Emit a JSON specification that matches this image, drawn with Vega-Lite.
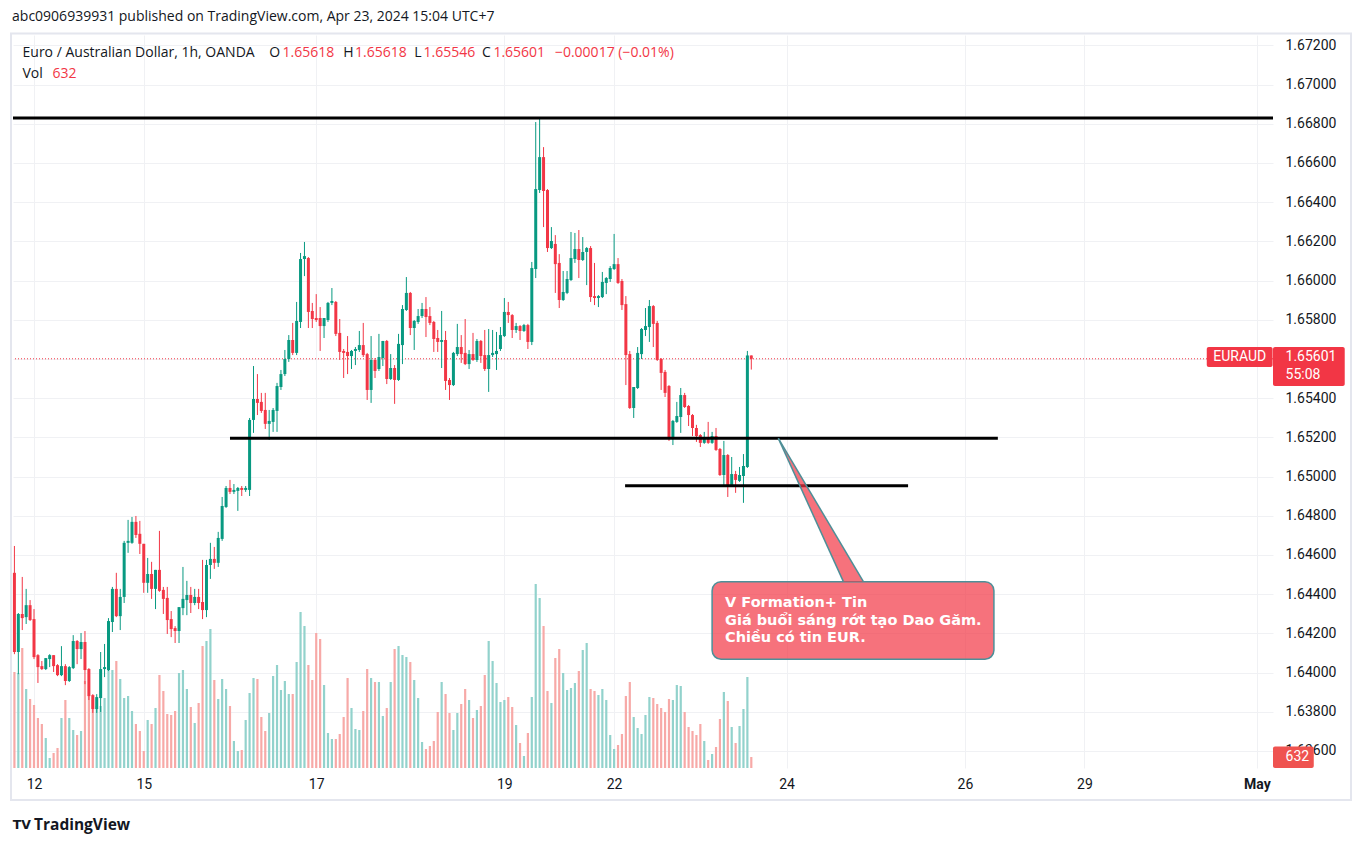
{
  "$schema": "https://vega.github.io/schema/vega-lite/v6.json",
  "width": 1260,
  "height": 733,
  "autosize": "none",
  "padding": {"left": 13, "top": 35, "right": 90, "bottom": 78},
  "background": "white",
  "config": {"view": {"stroke": null}, "font": "Roboto"},
  "datasets": {
    "candles": [
      {"i":0,"o":1.64509,"h":1.64646,"l":1.64094,"c":1.64105,"v":5520},
      {"i":1,"o":1.64105,"h":1.64304,"l":1.63992,"c":1.64299,"v":5463},
      {"i":2,"o":1.64299,"h":1.64488,"l":1.64217,"c":1.64278,"v":6900},
      {"i":3,"o":1.64283,"h":1.64427,"l":1.64248,"c":1.64344,"v":4543},
      {"i":4,"o":1.64344,"h":1.64370,"l":1.64263,"c":1.64268,"v":3968},
      {"i":5,"o":1.64273,"h":1.64324,"l":1.64069,"c":1.64079,"v":3623},
      {"i":6,"o":1.64089,"h":1.64094,"l":1.63947,"c":1.64028,"v":2875},
      {"i":7,"o":1.64033,"h":1.64059,"l":1.64013,"c":1.64018,"v":2530},
      {"i":8,"o":1.64018,"h":1.64074,"l":1.64013,"c":1.64074,"v":1725},
      {"i":9,"o":1.64069,"h":1.64094,"l":1.64028,"c":1.64089,"v":575},
      {"i":10,"o":1.64089,"h":1.64089,"l":1.64003,"c":1.64033,"v":863},
      {"i":11,"o":1.64038,"h":1.64043,"l":1.63982,"c":1.63987,"v":1150},
      {"i":12,"o":1.63987,"h":1.64135,"l":1.63982,"c":1.64033,"v":2875},
      {"i":13,"o":1.64033,"h":1.64043,"l":1.63936,"c":1.63957,"v":3910},
      {"i":14,"o":1.63957,"h":1.64033,"l":1.63952,"c":1.64028,"v":2875},
      {"i":15,"o":1.64023,"h":1.64191,"l":1.64018,"c":1.64161,"v":2185},
      {"i":16,"o":1.64161,"h":1.64166,"l":1.64043,"c":1.64120,"v":1898},
      {"i":17,"o":1.64120,"h":1.64202,"l":1.64069,"c":1.64156,"v":2128},
      {"i":18,"o":1.64156,"h":1.64212,"l":1.63941,"c":1.64013,"v":5003},
      {"i":19,"o":1.64018,"h":1.64023,"l":1.63860,"c":1.63880,"v":4140},
      {"i":20,"o":1.63885,"h":1.63890,"l":1.63794,"c":1.63814,"v":3910},
      {"i":21,"o":1.63814,"h":1.63890,"l":1.63794,"c":1.63875,"v":3565},
      {"i":22,"o":1.63870,"h":1.64105,"l":1.63799,"c":1.64018,"v":3565},
      {"i":23,"o":1.64018,"h":1.64146,"l":1.63977,"c":1.64028,"v":4025},
      {"i":24,"o":1.64013,"h":1.64278,"l":1.64008,"c":1.64263,"v":6383},
      {"i":25,"o":1.64258,"h":1.64437,"l":1.64207,"c":1.64427,"v":5635},
      {"i":26,"o":1.64427,"h":1.64509,"l":1.64283,"c":1.64288,"v":6153},
      {"i":27,"o":1.64288,"h":1.64427,"l":1.64217,"c":1.64386,"v":5118},
      {"i":28,"o":1.64386,"h":1.64672,"l":1.64355,"c":1.64662,"v":4025},
      {"i":29,"o":1.64662,"h":1.64779,"l":1.64611,"c":1.64672,"v":4140},
      {"i":30,"o":1.64662,"h":1.64794,"l":1.64657,"c":1.64769,"v":3278},
      {"i":31,"o":1.64769,"h":1.64799,"l":1.64687,"c":1.64702,"v":2530},
      {"i":32,"o":1.64708,"h":1.64774,"l":1.64605,"c":1.64657,"v":2128},
      {"i":33,"o":1.64657,"h":1.64657,"l":1.64407,"c":1.64458,"v":978},
      {"i":34,"o":1.64458,"h":1.64585,"l":1.64407,"c":1.64503,"v":2760},
      {"i":35,"o":1.64503,"h":1.64565,"l":1.64376,"c":1.64427,"v":2530},
      {"i":36,"o":1.64427,"h":1.64524,"l":1.64324,"c":1.64524,"v":3450},
      {"i":37,"o":1.64524,"h":1.64723,"l":1.64412,"c":1.64417,"v":5348},
      {"i":38,"o":1.64422,"h":1.64437,"l":1.64299,"c":1.64376,"v":4428},
      {"i":39,"o":1.64381,"h":1.64437,"l":1.64197,"c":1.64268,"v":3105},
      {"i":40,"o":1.64273,"h":1.64314,"l":1.64181,"c":1.64222,"v":3048},
      {"i":41,"o":1.64227,"h":1.64237,"l":1.64151,"c":1.64212,"v":3278},
      {"i":42,"o":1.64212,"h":1.64334,"l":1.64151,"c":1.64334,"v":5463},
      {"i":43,"o":1.64329,"h":1.64539,"l":1.64293,"c":1.64376,"v":5635},
      {"i":44,"o":1.64370,"h":1.64468,"l":1.64293,"c":1.64396,"v":4543},
      {"i":45,"o":1.64396,"h":1.64437,"l":1.64304,"c":1.64355,"v":3508},
      {"i":46,"o":1.64355,"h":1.64427,"l":1.64344,"c":1.64386,"v":2588},
      {"i":47,"o":1.64386,"h":1.64427,"l":1.64324,"c":1.64355,"v":3738},
      {"i":48,"o":1.64360,"h":1.64575,"l":1.64273,"c":1.64319,"v":7015},
      {"i":49,"o":1.64319,"h":1.64575,"l":1.64283,"c":1.64549,"v":7303},
      {"i":50,"o":1.64549,"h":1.64662,"l":1.64478,"c":1.64580,"v":7993},
      {"i":51,"o":1.64580,"h":1.64641,"l":1.64529,"c":1.64560,"v":5060},
      {"i":52,"o":1.64560,"h":1.64718,"l":1.64539,"c":1.64687,"v":3968},
      {"i":53,"o":1.64682,"h":1.64896,"l":1.64672,"c":1.64850,"v":5118},
      {"i":54,"o":1.64845,"h":1.64952,"l":1.64840,"c":1.64942,"v":4543},
      {"i":55,"o":1.64942,"h":1.64983,"l":1.64911,"c":1.64922,"v":3565},
      {"i":56,"o":1.64922,"h":1.64962,"l":1.64911,"c":1.64932,"v":1553},
      {"i":57,"o":1.64927,"h":1.64947,"l":1.64825,"c":1.64942,"v":978},
      {"i":58,"o":1.64942,"h":1.64952,"l":1.64901,"c":1.64932,"v":1035},
      {"i":59,"o":1.64932,"h":1.64952,"l":1.64922,"c":1.64942,"v":2760},
      {"i":60,"o":1.64932,"h":1.65299,"l":1.64901,"c":1.65289,"v":4313},
      {"i":61,"o":1.65289,"h":1.65564,"l":1.65223,"c":1.65396,"v":5175},
      {"i":62,"o":1.65396,"h":1.65523,"l":1.65314,"c":1.65376,"v":5118},
      {"i":63,"o":1.65381,"h":1.65427,"l":1.65325,"c":1.65335,"v":2933},
      {"i":64,"o":1.65340,"h":1.65427,"l":1.65243,"c":1.65269,"v":2128},
      {"i":65,"o":1.65269,"h":1.65340,"l":1.65187,"c":1.65284,"v":3163},
      {"i":66,"o":1.65279,"h":1.65350,"l":1.65228,"c":1.65340,"v":5290},
      {"i":67,"o":1.65335,"h":1.65478,"l":1.65228,"c":1.65462,"v":5923},
      {"i":68,"o":1.65457,"h":1.65544,"l":1.65442,"c":1.65523,"v":4485},
      {"i":69,"o":1.65523,"h":1.65646,"l":1.65513,"c":1.65600,"v":5003},
      {"i":70,"o":1.65600,"h":1.65722,"l":1.65585,"c":1.65697,"v":4255},
      {"i":71,"o":1.65697,"h":1.65784,"l":1.65620,"c":1.65631,"v":4255},
      {"i":72,"o":1.65631,"h":1.65891,"l":1.65620,"c":1.65794,"v":6095},
      {"i":73,"o":1.65789,"h":1.66141,"l":1.65758,"c":1.66110,"v":8970},
      {"i":74,"o":1.66110,"h":1.66197,"l":1.66023,"c":1.66125,"v":8165},
      {"i":75,"o":1.66115,"h":1.66120,"l":1.65758,"c":1.65840,"v":5923},
      {"i":76,"o":1.65845,"h":1.65886,"l":1.65758,"c":1.65804,"v":5060},
      {"i":77,"o":1.65809,"h":1.65931,"l":1.65789,"c":1.65799,"v":7763},
      {"i":78,"o":1.65809,"h":1.65865,"l":1.65641,"c":1.65768,"v":7418},
      {"i":79,"o":1.65768,"h":1.65809,"l":1.65707,"c":1.65809,"v":4773},
      {"i":80,"o":1.65799,"h":1.65891,"l":1.65789,"c":1.65886,"v":2013},
      {"i":81,"o":1.65886,"h":1.65962,"l":1.65875,"c":1.65896,"v":1668},
      {"i":82,"o":1.65891,"h":1.65896,"l":1.65717,"c":1.65728,"v":1668},
      {"i":83,"o":1.65733,"h":1.65804,"l":1.65595,"c":1.65636,"v":1955},
      {"i":84,"o":1.65641,"h":1.65651,"l":1.65503,"c":1.65631,"v":2933},
      {"i":85,"o":1.65636,"h":1.65717,"l":1.65523,"c":1.65615,"v":5175},
      {"i":86,"o":1.65615,"h":1.65646,"l":1.65549,"c":1.65641,"v":3450},
      {"i":87,"o":1.65641,"h":1.65661,"l":1.65569,"c":1.65651,"v":2243},
      {"i":88,"o":1.65646,"h":1.65743,"l":1.65636,"c":1.65671,"v":2185},
      {"i":89,"o":1.65671,"h":1.65784,"l":1.65610,"c":1.65620,"v":3278},
      {"i":90,"o":1.65625,"h":1.65631,"l":1.65391,"c":1.65442,"v":5693},
      {"i":91,"o":1.65442,"h":1.65717,"l":1.65376,"c":1.65595,"v":5175},
      {"i":92,"o":1.65595,"h":1.65605,"l":1.65503,"c":1.65539,"v":4945},
      {"i":93,"o":1.65549,"h":1.65728,"l":1.65539,"c":1.65610,"v":4945},
      {"i":94,"o":1.65605,"h":1.65692,"l":1.65564,"c":1.65692,"v":2990},
      {"i":95,"o":1.65692,"h":1.65697,"l":1.65472,"c":1.65498,"v":3450},
      {"i":96,"o":1.65498,"h":1.65625,"l":1.65493,"c":1.65554,"v":4945},
      {"i":97,"o":1.65554,"h":1.65569,"l":1.65371,"c":1.65493,"v":6843},
      {"i":98,"o":1.65493,"h":1.65728,"l":1.65488,"c":1.65677,"v":7015},
      {"i":99,"o":1.65671,"h":1.65875,"l":1.65574,"c":1.65855,"v":6498},
      {"i":100,"o":1.65850,"h":1.66018,"l":1.65845,"c":1.65937,"v":6383},
      {"i":101,"o":1.65937,"h":1.65942,"l":1.65722,"c":1.65758,"v":6095},
      {"i":102,"o":1.65758,"h":1.65799,"l":1.65646,"c":1.65794,"v":5060},
      {"i":103,"o":1.65789,"h":1.65855,"l":1.65779,"c":1.65819,"v":4025},
      {"i":104,"o":1.65819,"h":1.65886,"l":1.65809,"c":1.65855,"v":1495},
      {"i":105,"o":1.65855,"h":1.65916,"l":1.65712,"c":1.65814,"v":1093},
      {"i":106,"o":1.65819,"h":1.65865,"l":1.65773,"c":1.65784,"v":1265},
      {"i":107,"o":1.65789,"h":1.65794,"l":1.65636,"c":1.65702,"v":1553},
      {"i":108,"o":1.65707,"h":1.65748,"l":1.65636,"c":1.65687,"v":3220},
      {"i":109,"o":1.65687,"h":1.65845,"l":1.65554,"c":1.65697,"v":4945},
      {"i":110,"o":1.65697,"h":1.65743,"l":1.65442,"c":1.65488,"v":4255},
      {"i":111,"o":1.65493,"h":1.65503,"l":1.65391,"c":1.65467,"v":3163},
      {"i":112,"o":1.65467,"h":1.65636,"l":1.65462,"c":1.65631,"v":2185},
      {"i":113,"o":1.65625,"h":1.65779,"l":1.65615,"c":1.65661,"v":3163},
      {"i":114,"o":1.65661,"h":1.65722,"l":1.65580,"c":1.65625,"v":3680},
      {"i":115,"o":1.65631,"h":1.65804,"l":1.65569,"c":1.65574,"v":4543},
      {"i":116,"o":1.65574,"h":1.65646,"l":1.65549,"c":1.65625,"v":3910},
      {"i":117,"o":1.65625,"h":1.65733,"l":1.65590,"c":1.65595,"v":2875},
      {"i":118,"o":1.65595,"h":1.65702,"l":1.65585,"c":1.65692,"v":3335},
      {"i":119,"o":1.65692,"h":1.65697,"l":1.65580,"c":1.65615,"v":3565},
      {"i":120,"o":1.65620,"h":1.65748,"l":1.65539,"c":1.65549,"v":5348},
      {"i":121,"o":1.65549,"h":1.65753,"l":1.65432,"c":1.65620,"v":7303},
      {"i":122,"o":1.65620,"h":1.65748,"l":1.65610,"c":1.65631,"v":6153},
      {"i":123,"o":1.65625,"h":1.65738,"l":1.65544,"c":1.65641,"v":4888},
      {"i":124,"o":1.65651,"h":1.65763,"l":1.65641,"c":1.65722,"v":3795},
      {"i":125,"o":1.65717,"h":1.65911,"l":1.65712,"c":1.65840,"v":3910},
      {"i":126,"o":1.65840,"h":1.65891,"l":1.65784,"c":1.65824,"v":4083},
      {"i":127,"o":1.65824,"h":1.65829,"l":1.65707,"c":1.65748,"v":3508},
      {"i":128,"o":1.65748,"h":1.65784,"l":1.65733,"c":1.65768,"v":2473},
      {"i":129,"o":1.65768,"h":1.65773,"l":1.65697,"c":1.65743,"v":1438},
      {"i":130,"o":1.65743,"h":1.65779,"l":1.65738,"c":1.65773,"v":690},
      {"i":131,"o":1.65773,"h":1.65779,"l":1.65651,"c":1.65687,"v":2013},
      {"i":132,"o":1.65687,"h":1.66095,"l":1.65671,"c":1.66064,"v":4083},
      {"i":133,"o":1.66059,"h":1.66809,"l":1.66013,"c":1.66467,"v":10580},
      {"i":134,"o":1.66462,"h":1.66834,"l":1.66447,"c":1.66630,"v":9775},
      {"i":135,"o":1.66630,"h":1.66681,"l":1.66273,"c":1.66457,"v":8165},
      {"i":136,"o":1.66462,"h":1.66467,"l":1.66146,"c":1.66166,"v":4428},
      {"i":137,"o":1.66166,"h":1.66273,"l":1.66161,"c":1.66202,"v":3738},
      {"i":138,"o":1.66187,"h":1.66232,"l":1.65937,"c":1.66084,"v":6325},
      {"i":139,"o":1.66090,"h":1.66135,"l":1.65860,"c":1.65901,"v":6843},
      {"i":140,"o":1.65901,"h":1.66049,"l":1.65896,"c":1.65942,"v":5463},
      {"i":141,"o":1.65937,"h":1.66049,"l":1.65931,"c":1.66008,"v":4485},
      {"i":142,"o":1.66003,"h":1.66248,"l":1.65998,"c":1.66115,"v":4600},
      {"i":143,"o":1.66110,"h":1.66243,"l":1.66090,"c":1.66161,"v":4888},
      {"i":144,"o":1.66161,"h":1.66258,"l":1.66013,"c":1.66105,"v":5578},
      {"i":145,"o":1.66105,"h":1.66222,"l":1.66100,"c":1.66146,"v":6785},
      {"i":146,"o":1.66146,"h":1.66171,"l":1.65977,"c":1.66166,"v":7188},
      {"i":147,"o":1.66166,"h":1.66176,"l":1.65891,"c":1.65916,"v":4543},
      {"i":148,"o":1.65921,"h":1.66090,"l":1.65875,"c":1.65911,"v":4428},
      {"i":149,"o":1.65911,"h":1.65926,"l":1.65865,"c":1.65921,"v":4198},
      {"i":150,"o":1.65916,"h":1.66044,"l":1.65911,"c":1.65993,"v":4543},
      {"i":151,"o":1.65988,"h":1.66018,"l":1.65931,"c":1.66013,"v":3910},
      {"i":152,"o":1.66008,"h":1.66074,"l":1.65993,"c":1.66064,"v":1898},
      {"i":153,"o":1.66059,"h":1.66238,"l":1.66054,"c":1.66084,"v":1093},
      {"i":154,"o":1.66084,"h":1.66115,"l":1.65983,"c":1.65988,"v":1323},
      {"i":155,"o":1.65998,"h":1.66008,"l":1.65850,"c":1.65875,"v":1955},
      {"i":156,"o":1.65880,"h":1.65921,"l":1.65467,"c":1.65620,"v":4140},
      {"i":157,"o":1.65625,"h":1.65641,"l":1.65345,"c":1.65350,"v":4945},
      {"i":158,"o":1.65350,"h":1.65457,"l":1.65299,"c":1.65457,"v":2933},
      {"i":159,"o":1.65452,"h":1.65661,"l":1.65447,"c":1.65631,"v":2300},
      {"i":160,"o":1.65625,"h":1.65758,"l":1.65600,"c":1.65753,"v":1955},
      {"i":161,"o":1.65748,"h":1.65860,"l":1.65717,"c":1.65768,"v":3048},
      {"i":162,"o":1.65763,"h":1.65901,"l":1.65687,"c":1.65870,"v":4083},
      {"i":163,"o":1.65870,"h":1.65875,"l":1.65661,"c":1.65779,"v":4025},
      {"i":164,"o":1.65784,"h":1.65794,"l":1.65590,"c":1.65595,"v":3680},
      {"i":165,"o":1.65600,"h":1.65605,"l":1.65442,"c":1.65529,"v":3450},
      {"i":166,"o":1.65534,"h":1.65544,"l":1.65406,"c":1.65427,"v":3220},
      {"i":167,"o":1.65462,"h":1.65467,"l":1.65182,"c":1.65192,"v":3968},
      {"i":168,"o":1.65202,"h":1.65289,"l":1.65161,"c":1.65284,"v":3910},
      {"i":169,"o":1.65279,"h":1.65381,"l":1.65274,"c":1.65309,"v":4773},
      {"i":170,"o":1.65304,"h":1.65452,"l":1.65223,"c":1.65416,"v":4715},
      {"i":171,"o":1.65416,"h":1.65427,"l":1.65350,"c":1.65355,"v":3220},
      {"i":172,"o":1.65360,"h":1.65365,"l":1.65258,"c":1.65314,"v":2358},
      {"i":173,"o":1.65314,"h":1.65319,"l":1.65207,"c":1.65248,"v":2128},
      {"i":174,"o":1.65248,"h":1.65264,"l":1.65177,"c":1.65207,"v":1898},
      {"i":175,"o":1.65212,"h":1.65217,"l":1.65151,"c":1.65172,"v":2530},
      {"i":176,"o":1.65172,"h":1.65228,"l":1.65167,"c":1.65202,"v":1553},
      {"i":177,"o":1.65202,"h":1.65279,"l":1.65167,"c":1.65172,"v":460},
      {"i":178,"o":1.65172,"h":1.65228,"l":1.65167,"c":1.65207,"v":805},
      {"i":179,"o":1.65207,"h":1.65248,"l":1.65131,"c":1.65136,"v":1208},
      {"i":180,"o":1.65141,"h":1.65146,"l":1.65003,"c":1.65008,"v":2818},
      {"i":181,"o":1.65008,"h":1.65182,"l":1.64947,"c":1.65110,"v":4370},
      {"i":182,"o":1.65110,"h":1.65115,"l":1.64896,"c":1.64957,"v":3853},
      {"i":183,"o":1.64957,"h":1.65100,"l":1.64952,"c":1.65013,"v":2358},
      {"i":184,"o":1.65013,"h":1.65029,"l":1.64917,"c":1.64983,"v":1438},
      {"i":185,"o":1.64978,"h":1.65049,"l":1.64973,"c":1.65008,"v":2415},
      {"i":186,"o":1.65003,"h":1.65115,"l":1.64866,"c":1.65054,"v":3393},
      {"i":187,"o":1.65049,"h":1.65641,"l":1.65044,"c":1.65618,"v":5233},
      {"i":188,"o":1.65618,"h":1.65618,"l":1.65546,"c":1.65601,"v":632}
    ],
    "lines": [
      {"x1": -0.36, "x2": 321.1, "p": 1.66830},
      {"x1": 55.0, "x2": 250.9, "p": 1.65195},
      {"x1": 155.8, "x2": 228.0, "p": 1.64953}
    ],
    "frame": [{"x1": -0.87, "x2": 341.0, "p1": 1.67261, "p2": 1.63350}],
    "legend": [
      {"t": "abc0906939931 published on TradingView.com, Apr 23, 2024 15:04 UTC+7", "i": -0.6, "p": 1.67345, "k": "label"},
      {"t": "Euro / Australian Dollar, 1h, OANDA", "i": 2.07, "p": 1.67161, "k": "label"},
      {"t": "O", "i": 65.0, "p": 1.67161, "k": "label"},
      {"t": "1.65618", "i": 68.4, "p": 1.67161, "k": "value"},
      {"t": "H", "i": 83.9, "p": 1.67161, "k": "label"},
      {"t": "1.65618", "i": 86.9, "p": 1.67161, "k": "value"},
      {"t": "L", "i": 102.0, "p": 1.67161, "k": "label"},
      {"t": "1.65546", "i": 104.4, "p": 1.67161, "k": "value"},
      {"t": "C", "i": 119.3, "p": 1.67161, "k": "label"},
      {"t": "1.65601", "i": 122.2, "p": 1.67161, "k": "value"},
      {"t": "−0.00017 (−0.01%)", "i": 137.9, "p": 1.67161, "k": "value"},
      {"t": "Vol", "i": 2.07, "p": 1.67054, "k": "label"},
      {"t": "632", "i": 9.7, "p": 1.67054, "k": "value"}
    ],
    "logoicon": [{"t": "TV", "i": -0.4, "p": 1.63222}],
    "logoword": [{"t": "TradingView", "i": 5.0, "p": 1.63222}],
    "box": [{"x1": 178.0, "x2": 249.9, "p1": 1.64464, "p2": 1.64068}],
    "pointer": [
      {"p": 1.65195, "xl": 194.9, "xr": 194.9},
      {"p": 1.64464, "xl": 211.5, "xr": 216.6}
    ],
    "sides": [
      {"xa": 194.9, "pa": 1.65195, "xb": 211.5, "pb": 1.64464},
      {"xa": 194.9, "pa": 1.65195, "xb": 216.6, "pb": 1.64464}
    ],
    "note": [
      {"t": "V Formation+ Tin", "i": 181.3, "p": 1.64336},
      {"t": "Giá buổi sáng rớt tạo Dao Găm.", "i": 181.3, "p": 1.64245},
      {"t": "Chiều có tin EUR.", "i": 181.3, "p": 1.64156}
    ],
    "tags": [
      {"x1": 304.2, "x2": 321.0, "p1": 1.65661, "p2": 1.65559},
      {"x1": 321.1, "x2": 339.4, "p1": 1.65661, "p2": 1.65462}
    ],
    "tagtext": [
      {"t": "1.65601", "i": 324.3, "p": 1.65612},
      {"t": "55:08", "i": 324.3, "p": 1.65520}
    ],
    "symbol": [{"t": "EURAUD", "i": 312.6, "p": 1.65611}],
    "voltag": [{"x1": 321.1, "x2": 331.5, "v1": 0, "v2": 1230, "vm": 632, "t": "632", "i": 324.3}]
  },
  "layer": [
    {
      "layer": [
        {
          "data": {"name": "candles"},
          "mark": {"type": "bar", "size": 2.2},
          "encoding": {
            "x": {
              "field": "i", "type": "quantitative", "title": null,
              "scale": {"domain": [-0.36, 321.1], "nice": false, "zero": false, "padding": 0},
              "axis": {
                "title": null,
                "values": [5, 33, 77, 125, 153, 197, 242.5, 273, 317],
                "labelExpr": "datum.value == 5 ? '12' : datum.value == 33 ? '15' : datum.value == 77 ? '17' : datum.value == 125 ? '19' : datum.value == 153 ? '22' : datum.value == 197 ? '24' : datum.value == 242.5 ? '26' : datum.value == 273 ? '29' : 'May'",
                "labelFontWeight": {"condition": {"test": "datum.value == 317", "value": "bold"}, "value": "normal"},
                "labelFont": "Roboto", "labelFontSize": 14, "labelColor": "#131722",
                "labelPadding": 9, "ticks": false, "domain": false,
                "grid": true, "gridColor": "#f0f1f4", "gridWidth": 1
              }
            },
            "y": {"field": "v", "type": "quantitative", "scale": {"domain": [0, 42150], "nice": false, "padding": 0}, "axis": null},
            "color": {"condition": {"test": "datum.c >= datum.o", "value": "#92D2CC"}, "value": "#F7A9A7"}
          }
        },
        {
          "data": {"name": "voltag"},
          "mark": {"type": "rect", "color": "#EF5350", "cornerRadius": 2},
          "encoding": {
            "x": {"field": "x1", "type": "quantitative", "title": null},
            "x2": {"field": "x2"},
            "y": {"field": "v1", "type": "quantitative", "axis": null},
            "y2": {"field": "v2"}
          }
        },
        {
          "data": {"name": "voltag"},
          "mark": {"type": "text", "align": "left", "baseline": "middle", "color": "white", "fontSize": 14, "font": "Roboto"},
          "encoding": {
            "x": {"field": "i", "type": "quantitative", "title": null},
            "y": {"field": "vm", "type": "quantitative", "axis": null},
            "text": {"field": "t"}
          }
        }
      ]
    },
    {
      "layer": [
        {
          "data": {"name": "candles"},
          "mark": {"type": "rule", "color": "#F23645", "strokeDash": [1, 2], "strokeWidth": 1},
          "transform": [{"filter": "datum.i == 188"}],
          "encoding": {
            "y": {
              "field": "c", "type": "quantitative", "title": null,
              "scale": {"domain": [1.635132, 1.67253], "nice": false, "zero": false, "padding": 0},
              "axis": {
                "title": null, "orient": "right",
                "values": [1.636, 1.638, 1.640, 1.642, 1.644, 1.646, 1.648, 1.650, 1.652, 1.654, 1.656, 1.658, 1.660, 1.662, 1.664, 1.666, 1.668, 1.670, 1.672],
                "labelExpr": "datum.value == 1.656 ? '' : format(datum.value, '.5f')",
                "labelFont": "Roboto", "labelFontSize": 14, "labelColor": "#131722",
                "labelPadding": 12, "labelAlign": "left", "ticks": false, "domain": false,
                "grid": true, "gridColor": "#f0f1f4", "gridWidth": 1
              }
            }
          }
        },
        {
          "data": {"name": "frame"},
          "mark": {"type": "rect", "fill": null, "filled": false, "stroke": "#e4e6ee", "strokeWidth": 2},
          "encoding": {
            "x": {"field": "x1", "type": "quantitative", "title": null},
            "x2": {"field": "x2"},
            "y": {"field": "p1", "type": "quantitative", "title": null},
            "y2": {"field": "p2"}
          }
        },
        {
          "data": {"name": "candles"},
          "mark": {"type": "rule", "strokeWidth": 1},
          "encoding": {
            "x": {"field": "i", "type": "quantitative", "title": null},
            "y": {"field": "l", "type": "quantitative", "title": null},
            "y2": {"field": "h"},
            "color": {"condition": {"test": "datum.c >= datum.o", "value": "#089981"}, "value": "#F23645"}
          }
        },
        {
          "data": {"name": "candles"},
          "mark": {"type": "bar", "size": 3},
          "encoding": {
            "x": {"field": "i", "type": "quantitative", "title": null},
            "y": {"field": "o", "type": "quantitative", "title": null},
            "y2": {"field": "c"},
            "color": {"condition": {"test": "datum.c >= datum.o", "value": "#089981"}, "value": "#F23645"}
          }
        },
        {
          "data": {"name": "lines"},
          "mark": {"type": "rule", "color": "#000000", "strokeWidth": 3},
          "encoding": {
            "x": {"field": "x1", "type": "quantitative", "title": null},
            "x2": {"field": "x2"},
            "y": {"field": "p", "type": "quantitative", "title": null}
          }
        },
        {
          "data": {"name": "box"},
          "mark": {"type": "rect", "fill": "#F23645", "fillOpacity": 0.7, "stroke": "#4d8f98", "strokeWidth": 1.5, "cornerRadius": 9},
          "encoding": {
            "x": {"field": "x1", "type": "quantitative", "title": null},
            "x2": {"field": "x2"},
            "y": {"field": "p1", "type": "quantitative", "title": null},
            "y2": {"field": "p2"}
          }
        },
        {
          "data": {"name": "pointer"},
          "mark": {"type": "area", "orient": "horizontal", "color": "#F23645", "opacity": 0.7},
          "encoding": {
            "y": {"field": "p", "type": "quantitative", "title": null},
            "x": {"field": "xl", "type": "quantitative", "title": null},
            "x2": {"field": "xr"}
          }
        },
        {
          "data": {"name": "sides"},
          "mark": {"type": "rule", "color": "#4d8f98", "strokeWidth": 1.5},
          "encoding": {
            "x": {"field": "xa", "type": "quantitative", "title": null},
            "x2": {"field": "xb"},
            "y": {"field": "pa", "type": "quantitative", "title": null},
            "y2": {"field": "pb"}
          }
        },
        {
          "data": {"name": "note"},
          "mark": {"type": "text", "align": "left", "baseline": "alphabetic", "color": "white", "fontSize": 14.5, "font": "DejaVu Sans", "fontWeight": "bold"},
          "encoding": {
            "x": {"field": "i", "type": "quantitative", "title": null},
            "y": {"field": "p", "type": "quantitative", "title": null},
            "text": {"field": "t"}
          }
        },
        {
          "data": {"name": "tags"},
          "mark": {"type": "rect", "color": "#F23645", "cornerRadius": 2},
          "encoding": {
            "x": {"field": "x1", "type": "quantitative", "title": null},
            "x2": {"field": "x2"},
            "y": {"field": "p1", "type": "quantitative", "title": null},
            "y2": {"field": "p2"}
          }
        },
        {
          "data": {"name": "tagtext"},
          "mark": {"type": "text", "align": "left", "baseline": "middle", "color": "white", "fontSize": 14, "font": "Roboto"},
          "encoding": {
            "x": {"field": "i", "type": "quantitative", "title": null},
            "y": {"field": "p", "type": "quantitative", "title": null},
            "text": {"field": "t"}
          }
        },
        {
          "data": {"name": "symbol"},
          "mark": {"type": "text", "align": "center", "baseline": "middle", "color": "white", "fontSize": 14, "font": "Roboto"},
          "encoding": {
            "x": {"field": "i", "type": "quantitative", "title": null},
            "y": {"field": "p", "type": "quantitative", "title": null},
            "text": {"field": "t"}
          }
        },
        {
          "data": {"name": "legend"},
          "mark": {"type": "text", "align": "left", "baseline": "middle", "fontSize": 14, "font": "Open Sans"},
          "encoding": {
            "x": {"field": "i", "type": "quantitative", "title": null},
            "y": {"field": "p", "type": "quantitative", "title": null},
            "text": {"field": "t"},
            "color": {"field": "k", "type": "nominal", "scale": {"domain": ["label", "value"], "range": ["#131722", "#F23645"]}, "legend": null}
          }
        },
        {
          "data": {"name": "logoicon"},
          "mark": {"type": "text", "align": "left", "baseline": "middle", "font": "DejaVu Sans", "fontWeight": "bold", "fontSize": 12.5, "color": "#131722"},
          "encoding": {
            "x": {"field": "i", "type": "quantitative", "title": null},
            "y": {"field": "p", "type": "quantitative", "title": null},
            "text": {"field": "t"}
          }
        },
        {
          "data": {"name": "logoword"},
          "mark": {"type": "text", "align": "left", "baseline": "middle", "font": "Open Sans", "fontWeight": "bold", "fontSize": 15.5, "color": "#131722"},
          "encoding": {
            "x": {"field": "i", "type": "quantitative", "title": null},
            "y": {"field": "p", "type": "quantitative", "title": null},
            "text": {"field": "t"}
          }
        }
      ]
    }
  ],
  "resolve": {"scale": {"y": "independent"}}
}
